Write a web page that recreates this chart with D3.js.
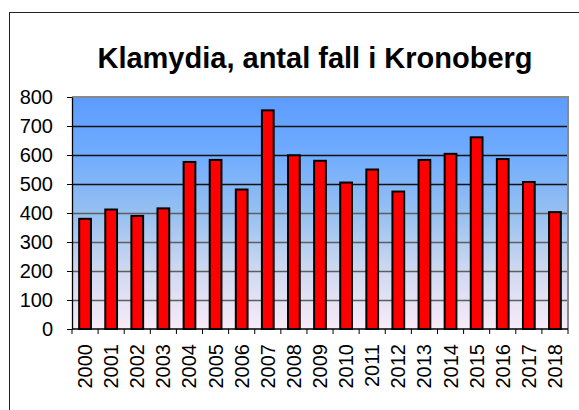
<!DOCTYPE html>
<html>
<head>
<meta charset="utf-8">
<script src="https://cdn.jsdelivr.net/npm/d3@7"></script>
<style>
  body { margin: 0; background: #fff; }
  svg { display: block; font-family: "Liberation Sans", Arial, sans-serif; }
</style>
</head>
<body>
<svg id="chart" width="579" height="410"></svg>
<script>
// data
const years = ["2000", "2001", "2002", "2003", "2004", "2005", "2006", "2007", "2008", "2009",
               "2010", "2011", "2012", "2013", "2014", "2015", "2016", "2017", "2018"];
const cases = [380, 412, 390, 416, 576, 583, 481, 754, 599, 580,
               505, 550, 474, 583, 604, 661, 586, 507, 403];
const yTicks = [0, 100, 200, 300, 400, 500, 600, 700, 800];
const title = "Klamydia, antal fall i Kronoberg";

let svg = d3.select("#chart");
let margin = {left: 72, right: 11, top: 97, bottom: 81};
let width = 579 - margin.left - margin.right,
    height = 410 - margin.top - margin.bottom;

// outer frame, runs off right and bottom edge like the screenshot
svg.append("rect")
   .attr("x", 9.5).attr("y", 12.5)
   .attr("width", 620).attr("height", 440)
   .attr("fill", "#fff")
   .attr("stroke", "#222");

svg.append("text")
   .attr("x", 315).attr("y", 68)
   .attr("text-anchor", "middle")
   .style("font-size", "29px")
   .style("font-weight", "bold")
   .text(title);

// plot background gradient
let grad = svg.append("defs").append("linearGradient")
              .attr("id", "bg").attr("x1", 0).attr("y1", 0).attr("x2", 0).attr("y2", 1);
[["0%", "#5c9cff"], ["25%", "#70acfe"], ["50%", "#96c0f0"], ["75%", "#cfd9f0"], ["100%", "#f8ebf8"]]
  .forEach(s => grad.append("stop").attr("offset", s[0]).attr("stop-color", s[1]));

let g = svg.append("g").attr("transform", `translate(${margin.left},${margin.top})`);

let x = d3.scaleBand().domain(years).range([0, width]).paddingInner(0.55).paddingOuter(0.275);
let y = d3.scaleLinear().domain([0, 800]).range([height, 0]);

g.append("rect")
 .attr("width", width).attr("height", height)
 .attr("fill", "url(#bg)");

// gridlines
g.selectAll("line.grid")
 .data(yTicks.filter(d => d > 0 && d < 800))
 .enter().append("line")
 .attr("class", "grid")
 .attr("x1", 0).attr("x2", width)
 .attr("y1", d => Math.round(y(d)) + 0.5).attr("y2", d => Math.round(y(d)) + 0.5)
 .attr("stroke", d => d >= 500 ? "#111" : "#5e5e5e")
 .attr("stroke-width", 1.3);

// plot border top/right
g.append("path")
 .attr("d", `M0,${y(800)}H${width}V${height}`)
 .attr("fill", "none")
 .attr("stroke", "#8a8a8a")
 .attr("stroke-width", 2);

// bars
g.selectAll("rect.bar")
 .data(cases)
 .enter().append("rect")
 .attr("class", "bar")
 .attr("x", (d, i) => x(years[i]))
 .attr("width", x.bandwidth())
 .attr("y", d => y(d))
 .attr("height", d => height - y(d))
 .attr("fill", "#ff0000")
 .attr("stroke", "#000")
 .attr("stroke-width", 2);

// y axis
let yAxis = g.append("g")
             .call(d3.axisLeft(y).tickValues(yTicks).tickSize(5).tickPadding(14).tickSizeOuter(0));
yAxis.select(".domain").attr("stroke", "#000").attr("stroke-width", 1.3);
yAxis.selectAll("line").attr("stroke", "#000");
yAxis.selectAll("text")
     .style("font-size", "20px")
     .attr("fill", "#000");

// x axis: ticks sit on the band edges, labels rotated
let xa = g.append("g").attr("transform", `translate(0,${height})`);
xa.append("line")
  .attr("x1", 0).attr("x2", width)
  .attr("stroke", "#000").attr("stroke-width", 1.3);
xa.selectAll("line.tick")
  .data(d3.range(years.length + 1))
  .enter().append("line")
  .attr("class", "tick")
  .attr("x1", i => i * x.step()).attr("x2", i => i * x.step())
  .attr("y1", 0).attr("y2", 5)
  .attr("stroke", "#000");
xa.selectAll("text")
  .data(years)
  .enter().append("text")
  .attr("transform", d => `translate(${x(d) + x.bandwidth() / 2 + 7},15) rotate(-90)`)
  .attr("text-anchor", "end")
  .style("font-size", "20px")
  .text(d => d);
</script>
</body>
</html>
